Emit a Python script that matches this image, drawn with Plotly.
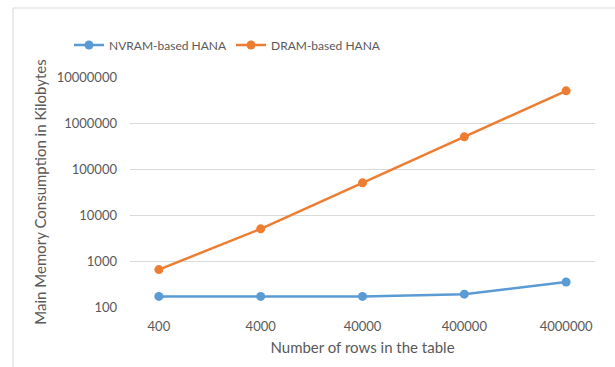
import plotly.graph_objects as go

rows = ["400", "4000", "40000", "400000", "4000000"]
nvram_kb = [170, 170, 170, 190, 350]
dram_kb = [650, 5000, 50000, 500000, 5000000]
y_ticks = [100, 1000, 10000, 100000, 1000000, 10000000]

FONT = "Lato"
TEXT = "#595959"

W, H = 615, 367
L, R, T, B = 130, 20, 77, 60
pw, ph = W - L - R, H - T - B


def px_x(p):
    return (p - L) / pw


def px_y(p):
    return (H - B - p) / ph


fig = go.Figure()
fig.add_trace(go.Scatter(
    x=rows, y=nvram_kb, name="NVRAM-based HANA", mode="lines+markers",
    line=dict(color="#5b9bd5", width=2.5), marker=dict(size=9, color="#5b9bd5"),
))
fig.add_trace(go.Scatter(
    x=rows, y=dram_kb, name="DRAM-based HANA", mode="lines+markers",
    line=dict(color="#ed7d31", width=2.5), marker=dict(size=9, color="#ed7d31"),
))

# chart frame
fig.add_shape(type="rect", xref="paper", yref="paper",
              x0=px_x(13), x1=px_x(640), y0=px_y(380), y1=px_y(8),
              line=dict(color="#d9d9d9", width=1), fillcolor="rgba(0,0,0,0)")

fig.update_layout(
    width=W, height=H,
    margin=dict(l=L, r=R, t=T, b=B),
    paper_bgcolor="white", plot_bgcolor="white",
    font=dict(family=FONT, size=13, color=TEXT),
    showlegend=True,
    legend=dict(orientation="h", x=px_x(69), y=px_y(45), xanchor="left", yanchor="middle",
                font=dict(size=12, color=TEXT), bgcolor="rgba(0,0,0,0)", itemwidth=30,
                entrywidth=117, entrywidthmode="pixels"),
    xaxis=dict(
        type="category", showgrid=False, zeroline=False, showline=False, ticks="",
        tickfont=dict(size=13, color=TEXT), ticklabelstandoff=10,
        title=dict(text="Number of rows in the table", font=dict(size=15, color=TEXT), standoff=9),
    ),
    yaxis=dict(
        type="log", range=[2, 7], tickvals=y_ticks, ticktext=[str(v) for v in y_ticks],
        showgrid=True, gridcolor="#d9d9d9", gridwidth=1, zeroline=False, showline=False,
        ticks="", tickfont=dict(size=13, color=TEXT), ticklabelstandoff=12,
        title=dict(text="Main Memory Consumption in Kilobytes", font=dict(size=15, color=TEXT), standoff=6),
    ),
)

fig.write_html("out.html")
